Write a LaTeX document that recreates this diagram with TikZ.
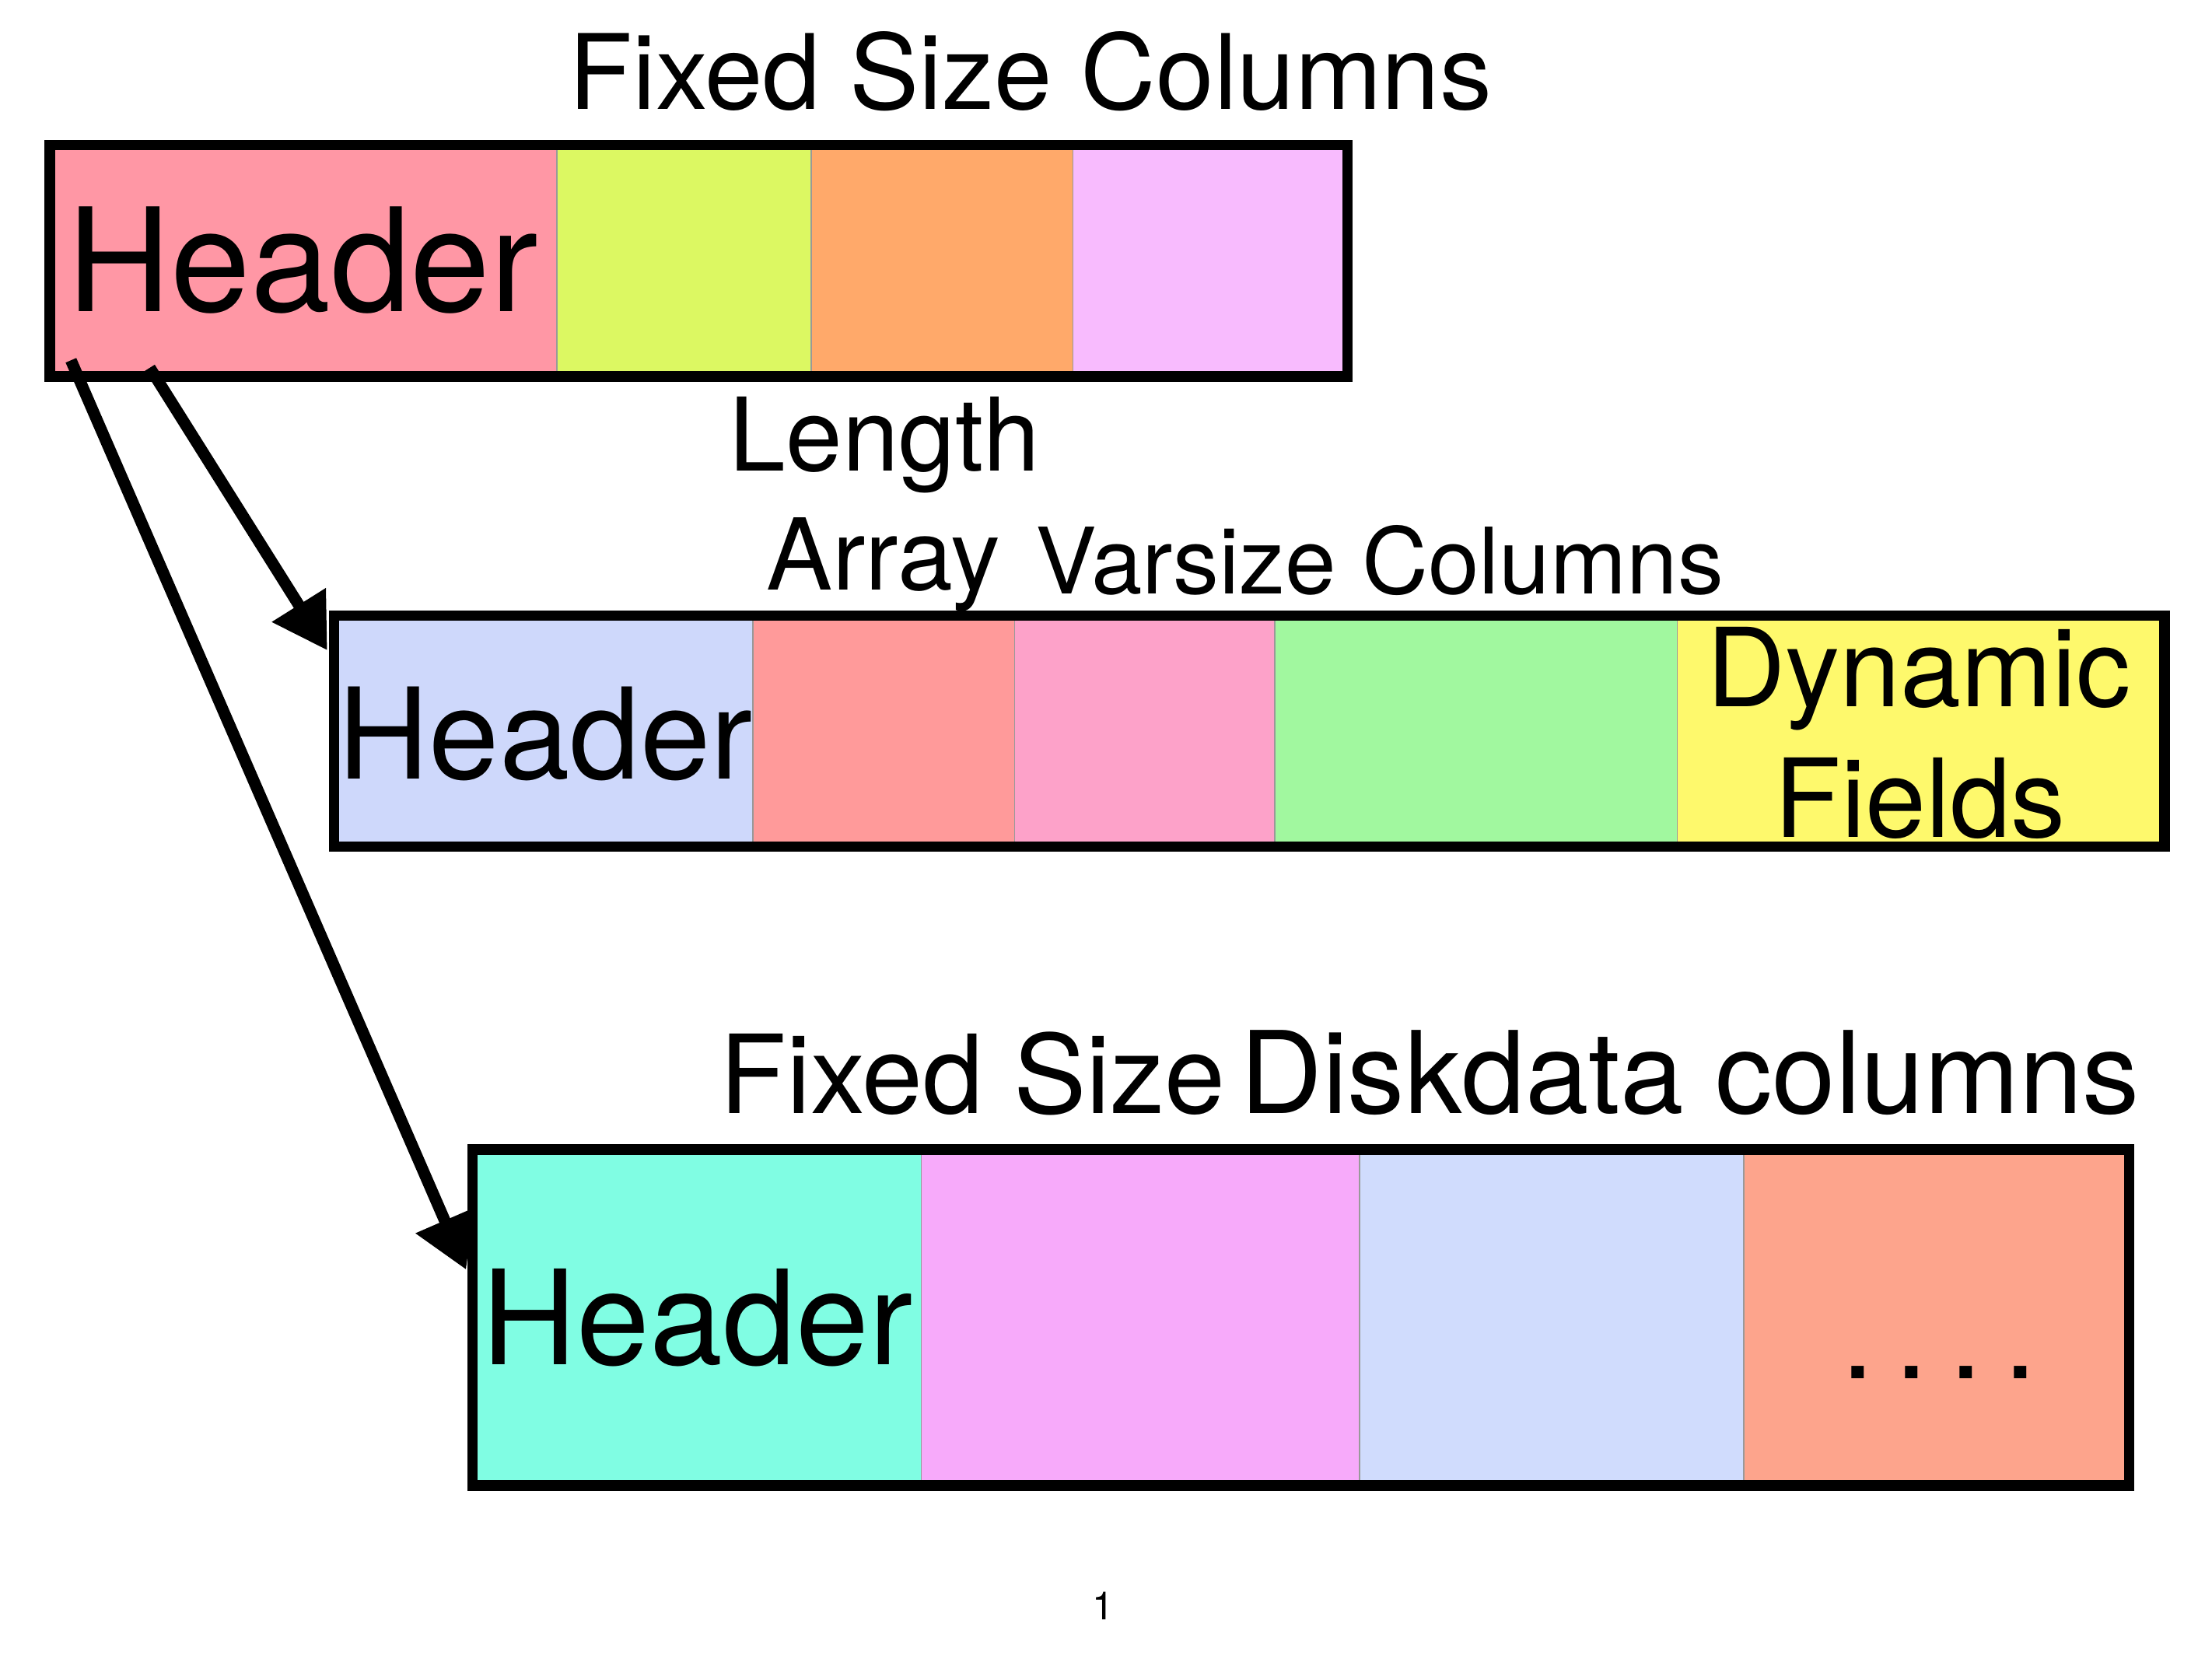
\documentclass[tikz,border=0pt]{standalone}
\usepackage{fontspec}
\setmainfont{TeX Gyre Heros}
\usetikzlibrary{arrows.meta,calc,fit}
\newcommand\myfs[1]{\fontsize{#1pt}{#1pt}\selectfont}
\definecolor{cTa}{HTML}{FF97A5}
\definecolor{cTb}{HTML}{DCF862}
\definecolor{cTc}{HTML}{FFA96A}
\definecolor{cTd}{HTML}{F8BBFE}
\definecolor{cMa}{HTML}{CED8FB}
\definecolor{cMb}{HTML}{FF9A9A}
\definecolor{cMc}{HTML}{FDA2C9}
\definecolor{cMd}{HTML}{A1F89F}
\definecolor{cMe}{HTML}{FEF96C}
\definecolor{cBa}{HTML}{80FDE3}
\definecolor{cBb}{HTML}{F7AAFA}
\definecolor{cBc}{HTML}{D0DCFD}
\definecolor{cBd}{HTML}{FDA48C}
\begin{document}
\begin{tikzpicture}[x=0.02cm,y=-0.02cm,
  lbl/.style={inner sep=0pt,outer sep=0pt,anchor=base,text=black},
  boxline/.style={draw=black,line width=0.15cm,line join=miter,inner sep=0pt,outer sep=0pt},
  sepline/.style={draw=black!40,line width=0.5pt},
  conn/.style={draw=black,line width=0.165cm,-{Triangle[length=0.76cm,width=0.86cm]}}]
\useasboundingbox (0,0) rectangle (1568,1176);
\fill[white] (0,0) rectangle (1568,1176);

% ---- top box
\coordinate (tNW) at (35.4,102.8);
\coordinate (tSE) at (955.2,266.7);
\fill[cTa] (35.4,102.8) rectangle (394.8,266.7);
\fill[cTb] (394.8,102.8) rectangle (575,266.7);
\fill[cTc] (575,102.8) rectangle (760.6,266.7);
\fill[cTd] (760.6,102.8) rectangle (955.2,266.7);
\foreach \xx in {394.8,575,760.6} \draw[sepline] (\xx,102.8) -- (\xx,266.7);
\node[boxline,fit=(tNW)(tSE)] (topbox) {};

% ---- arrows
\coordinate (a1s) at ($(topbox.south west)+(70.8,-6)$);
\coordinate (a2s) at ($(topbox.south west)+(14.9,-11.3)$);

% ---- middle box
\coordinate (mNW) at (236.8,436.4);
\coordinate (mSE) at (1534.2,600.2);
\fill[cMa] (236.8,436.4) rectangle (533.6,600.2);
\fill[cMb] (533.6,436.4) rectangle (719.2,600.2);
\fill[cMc] (719.2,436.4) rectangle (903.5,600.2);
\fill[cMd] (903.5,436.4) rectangle (1189,600.2);
\fill[cMe] (1189,436.4) rectangle (1534.2,600.2);
\foreach \xx in {533.6,719.2,903.5,1189} \draw[sepline] (\xx,436.4) -- (\xx,600.2);
\node[boxline,fit=(mNW)(mSE)] (midbox) {};

% ---- bottom box
\coordinate (bNW) at (335,814.8);
\coordinate (bSE) at (1509.2,1053.2);
\fill[cBa] (335,814.8) rectangle (653,1053.2);
\fill[cBb] (653,814.8) rectangle (963.7,1053.2);
\fill[cBc] (963.7,814.8) rectangle (1236,1053.2);
\fill[cBd] (1236,814.8) rectangle (1509.2,1053.2);
\foreach \xx in {653,963.7,1236} \draw[sepline] (\xx,814.8) -- (\xx,1053.2);
\node[boxline,fit=(bNW)(bSE)] (botbox) {};

\coordinate (a1e) at ($(midbox.north west)+(-4.8,24.6)$);
\coordinate (a2e) at ($(botbox.north west)+(-4.6,85.2)$);
\draw[conn] (a1s) -- (a1e);
\draw[conn] (a2s) -- (a2e);

% ---- texts
\node[lbl,font={\myfs{42}}] (title) at (730.5,77.5) {Fixed Size Columns};
\node[lbl,font={\myfs{58}}] (thead) at (214.5,221) {Header};
\node[lbl,font={\myfs{41}}] (length) at (627,334) {Length};
\node[lbl,font={\myfs{40}}] (array) at (626,418.3) {Array};
\node[lbl,font={\myfs{37}}] (varsize) at (978,420.9) {Varsize Columns};
\node[lbl,font={\myfs{51}}] (mhead) at (386.5,552) {Header};
\node[lbl,font={\myfs{44}}] (dyn) at (1360,500.8) {Dynamic};
\node[lbl,font={\myfs{44}}] (fields) at (1361,593.6) {Fields};
\node[lbl,font={\myfs{44}}] (fixsize) at (689.5,789) {Fixed Size};
\node[lbl,font={\myfs{46}}] (disk) at (1198,789) {Diskdata columns};
\node[lbl,font={\myfs{53}}] (bhead) at (494.3,967.5) {Header};
\node[lbl,font={\myfs{48}}] (dots) at (1374.4,977) {.\kern8.5pt.\kern8.5pt.\kern8.5pt.};
\node[lbl,font={\myfs{15.7}}] (pnum) at (782,1148) {1};
\end{tikzpicture}
\end{document}
